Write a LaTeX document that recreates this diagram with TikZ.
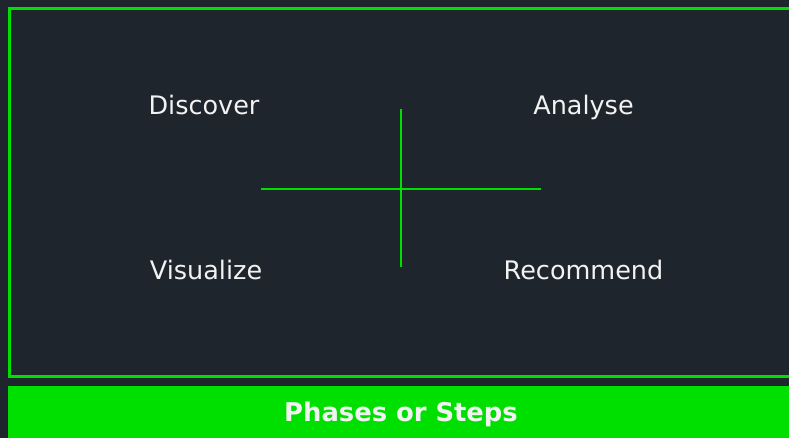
\documentclass[tikz,border=0pt]{standalone}
\usepackage{fontspec}
\setmainfont{DejaVu Sans}
\definecolor{bgdark}{HTML}{1F252D}
\definecolor{lime}{HTML}{00E000}
\definecolor{txt}{HTML}{F2F2F2}
\begin{document}
\begin{tikzpicture}[x=1pt,y=1pt,
  lbl/.style={anchor=base,text=txt,font=\fontsize{25.5}{30}\selectfont,inner sep=0pt},
  crossline/.style={draw=lime,line width=2.8pt}]
\useasboundingbox (0,0) rectangle (789,438);
\clip (0,0) rectangle (789,438);
\fill[bgdark] (0,0) rectangle (789,438);
\draw[lime,line width=3.4pt] (800,61.5) -- (9.5,61.5) -- (9.5,429.5) -- (800,429.5);
\fill[lime] (8,0) rectangle (800,52);
\node[anchor=base,text=txt,font=\bfseries\fontsize{25.8}{30}\selectfont,inner sep=0pt] (title) at (401,16) {Phases or Steps};
\coordinate (vt) at (401,329);
\coordinate (vb) at (401,171);
\coordinate (hl) at (261,249);
\coordinate (hr) at (541,249);
\draw[crossline] (vt) -- (vb);
\draw[crossline] (hl) -- (hr);
\node[lbl] (discover) at (204,323) {Discover};
\node[lbl] (analyse) at (583.5,323) {Analyse};
\node[lbl] (visualize) at (206,158) {Visualize};
\node[lbl] (recommend) at (583.5,158) {Recommend};
\end{tikzpicture}
\end{document}
